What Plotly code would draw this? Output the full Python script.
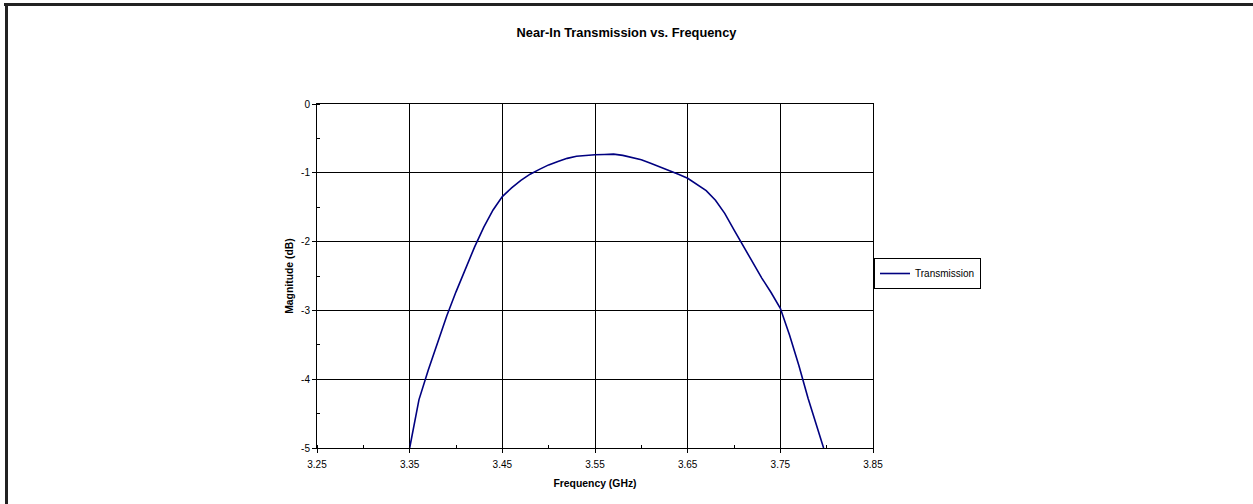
import plotly.graph_objects as go

# ---- data ----
freq_ghz = [3.35, 3.36, 3.37, 3.38, 3.39, 3.40, 3.41, 3.42, 3.43, 3.44,
            3.45, 3.46, 3.47, 3.48, 3.49, 3.50, 3.51, 3.52, 3.53, 3.54,
            3.55, 3.56, 3.57, 3.58, 3.59, 3.60, 3.61, 3.62, 3.63, 3.64,
            3.65, 3.66, 3.67, 3.68, 3.69, 3.70, 3.71, 3.72, 3.73, 3.74,
            3.75, 3.76, 3.77, 3.78, 3.79, 3.7967]
transmission_db = [-5.00, -4.30, -3.87, -3.47, -3.08, -2.73, -2.40, -2.08, -1.79, -1.54,
                   -1.345, -1.22, -1.11, -1.02, -0.95, -0.885, -0.835, -0.79, -0.76, -0.745,
                   -0.737, -0.733, -0.729, -0.747, -0.776, -0.81, -0.86, -0.91, -0.965, -1.02,
                   -1.08, -1.17, -1.26, -1.40, -1.59, -1.83, -2.07, -2.30, -2.53, -2.74,
                   -2.97, -3.36, -3.80, -4.28, -4.72, -5.00]

x_tick_vals = [3.25, 3.35, 3.45, 3.55, 3.65, 3.75, 3.85]
x_tick_text = ["3.25", "3.35", "3.45", "3.55", "3.65", "3.75", "3.85"]
y_tick_vals = [0, -1, -2, -3, -4, -5]
y_tick_text = ["0", "-1", "-2", "-3", "-4", "-5"]

series_name = "Transmission"
title_text = "Near-In Transmission vs. Frequency"
x_title = "Frequency (GHz)"
y_title = "Magnitude (dB)"

FONT = "Liberation Sans, Arial, sans-serif"

fig = go.Figure()
fig.add_trace(go.Scatter(
    x=freq_ghz, y=transmission_db, mode="lines", name=series_name,
    line=dict(color="#000080", width=1.6),
))

W, H = 1253, 504
L, R, T, B = 317, 380, 104, 56
pw, ph = W - L - R, H - T - B

def px_x(p):
    return (p - L) / pw

def px_y(p):
    return (H - B - p) / ph

axis_common = dict(
    showline=True, linecolor="#000000", linewidth=1, mirror=True,
    showgrid=True, gridcolor="#000000", gridwidth=1,
    ticks="outside", ticklen=4, tickcolor="#000000", tickwidth=1,
    tickfont=dict(family=FONT, size=10, color="#000000"),
    zeroline=False,
)

fig.update_layout(
    width=W, height=H,
    margin=dict(l=L, r=R, t=T, b=B),
    paper_bgcolor="white", plot_bgcolor="white",
    font=dict(family=FONT, color="#000000"),
    title=dict(text="<b>" + title_text + "</b>", x=0.5, xanchor="center",
               y=1 - 33 / H, yanchor="middle",
               font=dict(family=FONT, size=12.8, color="#000000")),
    xaxis=dict(range=[3.25, 3.85], tickvals=x_tick_vals, ticktext=x_tick_text,
               ticklabelstandoff=3,
               title=dict(text="<b>" + x_title + "</b>", standoff=10,
                          font=dict(family=FONT, size=10.4, color="#000000")),
               minor=dict(dtick=0.05, tick0=3.25, ticks="inside", ticklen=3,
                          tickcolor="#000000", showgrid=False),
               **axis_common),
    yaxis=dict(range=[-5, 0], tickvals=y_tick_vals, ticktext=y_tick_text,
               title=dict(text="<b>" + y_title + "</b>", standoff=5,
                          font=dict(family=FONT, size=10.4, color="#000000")),
               minor=dict(dtick=0.5, tick0=0, ticks="inside", ticklen=3,
                          tickcolor="#000000", showgrid=False),
               **axis_common),
    showlegend=True,
    legend=dict(x=px_x(874), y=px_y(258), xanchor="left", yanchor="top",
                bordercolor="#000000", borderwidth=1, bgcolor="white",
                font=dict(family=FONT, size=10, color="#000000"),
                itemwidth=30),
    shapes=[
        dict(type="line", xref="paper", yref="paper",
             x0=px_x(4), x1=px_x(W), y0=px_y(4.5), y1=px_y(4.5),
             line=dict(color="#222222", width=3)),
        dict(type="line", xref="paper", yref="paper",
             x0=px_x(6.5), x1=px_x(6.5), y0=px_y(4), y1=px_y(H),
             line=dict(color="#222222", width=3)),
    ],
)

fig.write_html("out.html",
               config={"displayModeBar": False},
               post_script="document.body.style.margin='0';document.body.style.overflow='hidden';")
